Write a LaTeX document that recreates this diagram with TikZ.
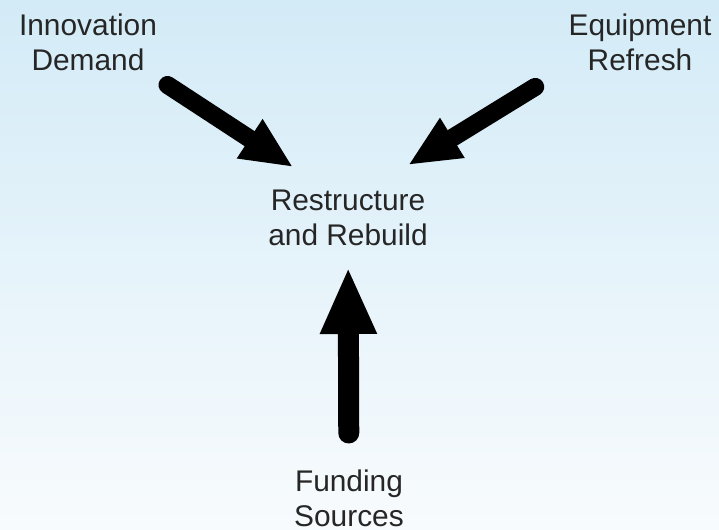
\documentclass[tikz,border=0pt]{standalone}
\usepackage{fontspec}
\setmainfont{Liberation Sans}
\usetikzlibrary{arrows.meta}

\definecolor{skytop}{RGB}{211,235,247}
\definecolor{skybottom}{RGB}{248,251,253}

\tikzset{
	captxt/.style={align=center, text=black!85, font=\fontsize{17}{20}\selectfont},
	fatarrow/.style={line width=0.36cm, line cap=round, -{Triangle[width=0.86cm, length=1.04cm]}},
	uparrow/.style={line width=0.42cm, line cap=round, -{Triangle[width=1.04cm, length=1.34cm]}}
}

\begin{document}
\begin{tikzpicture}
			%%%%% START %%%%%
			
			\shade[top color=skytop, bottom color=skybottom] (0, 0) rectangle (14.38, 10.6);
			\useasboundingbox (0, 0) rectangle (14.38, 10.6);
			
			\node[captxt] (innov) at (1.76, 9.76) {Innovation\\Demand};
			\node[captxt] (equip) at (12.8, 9.76) {Equipment\\Refresh};
			\node[captxt] (rebuild) at (6.96, 6.24) {Restructure\\and Rebuild};
			\node[captxt] (funding) at (6.98, 0.64) {Funding\\Sources};
			
			\draw[fatarrow, shorten <=1.9cm, shorten >=1.31cm] ([yshift=0.18cm]innov.center) -- ([yshift=0.3cm]rebuild.center);
			\draw[fatarrow, shorten <=2.46cm, shorten >=1.41cm] ([yshift=0.39cm]equip.center) -- ([yshift=0.32cm]rebuild.center);
			\draw[uparrow, shorten <=1.3cm, shorten >=0.98cm] (funding.center) -- (rebuild.center);
			
			%%%%% END %%%%%
\end{tikzpicture}
\end{document}
